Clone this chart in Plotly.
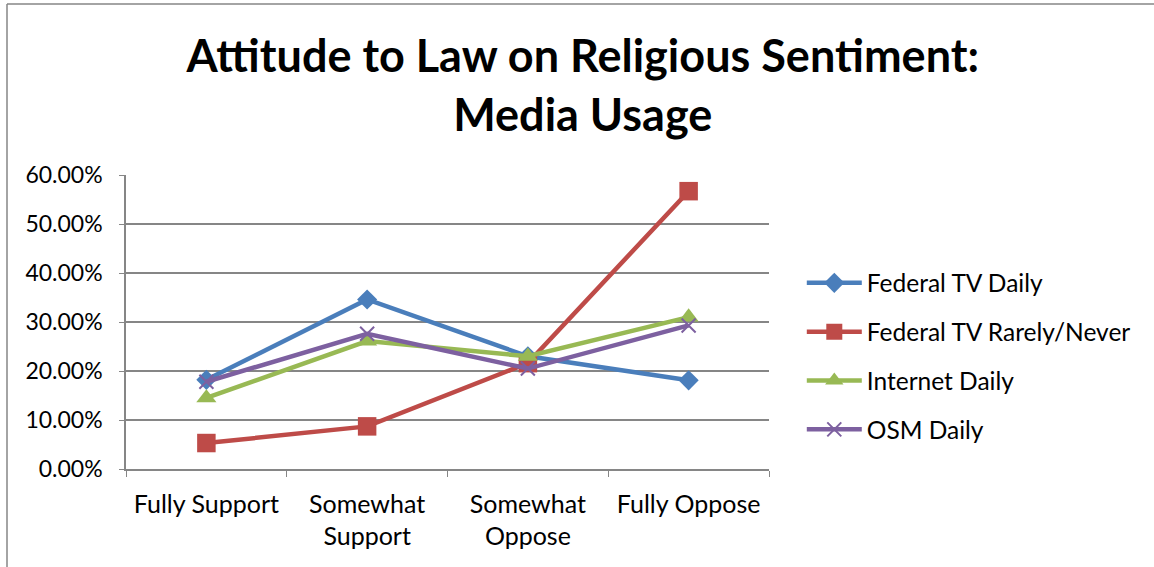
import plotly.graph_objects as go

categories = ["Fully Support", "Somewhat<br>Support", "Somewhat<br>Oppose", "Fully Oppose"]

federal_tv_daily = [0.182, 0.346, 0.230, 0.181]
federal_tv_rarely = [0.053, 0.087, 0.216, 0.567]
internet_daily = [0.145, 0.261, 0.230, 0.310]
osm_daily = [0.178, 0.276, 0.205, 0.293]

y_ticks = [0.0, 0.1, 0.2, 0.3, 0.4, 0.5, 0.6]

FONT = "Lato, sans-serif"
GRID = "#868686"

series = [
    ("Federal TV Daily", federal_tv_daily, "#4A7EBB", dict(symbol="diamond", size=15.5)),
    ("Federal TV Rarely/Never", federal_tv_rarely, "#BE4B48", dict(symbol="square", size=18.5)),
    ("Internet Daily", internet_daily, "#98B954", dict(symbol="triangle-up", size=17.5)),
    ("OSM Daily", osm_daily, "#7D60A0", dict(symbol="x-thin", size=14)),
]

fig = go.Figure()
for name, values, color, mk in series:
    marker = dict(color=color, **mk)
    if mk["symbol"] == "x-thin":
        marker["line"] = dict(color=color, width=2)
    fig.add_trace(go.Scatter(
        x=categories, y=values, name=name, mode="lines+markers",
        line=dict(color=color, width=4.5), marker=marker, legendgroup=name,
    ))

fig.update_layout(
    width=1154, height=567,
    margin=dict(l=126, r=385, t=175, b=98),
    paper_bgcolor="white", plot_bgcolor="white",
    font=dict(family=FONT, color="black", size=24),
    title=dict(
        text="<b>Attitude to Law on Religious Sentiment:<br>Media Usage</b>",
        font=dict(size=45, family=FONT, color="black"),
        x=0.505, xanchor="center", xref="container",
        y=0.873, yanchor="top", yref="container",
    ),
    showlegend=True,
    legend=dict(
        x=1.051, xanchor="left", y=0.383, yanchor="middle",
        font=dict(size=24.5, family=FONT), tracegroupgap=14, itemwidth=55,
        bgcolor="rgba(0,0,0,0)",
    ),
    shapes=[
        dict(type="line", xref="paper", yref="paper",
             x0=(7 - 126) / 643, x1=(7 - 126) / 643, y0=-0.4, y1=1 + (175 - 4) / 294,
             line=dict(color="#868686", width=1.5)),
        dict(type="line", xref="paper", yref="paper",
             x0=(7 - 126) / 643, x1=1.7, y0=1 + (175 - 4) / 294, y1=1 + (175 - 4) / 294,
             line=dict(color="#868686", width=1.5)),
    ],
)

fig.update_xaxes(
    type="category", tickson="boundaries", ticks="outside", ticklen=6,
    tickcolor=GRID, showline=True, linecolor=GRID, linewidth=1.5,
    showgrid=False, tickfont=dict(size=25), range=[-0.5, 3.5],
    tickangle=0, automargin=False, ticklabelstandoff=12,
)
fig.update_yaxes(
    range=[0, 0.6], tickvals=y_ticks, tickformat=".2%", ticks="outside", ticklen=5,
    tickcolor=GRID, showline=True, linecolor=GRID, linewidth=1.5,
    showgrid=True, gridcolor=GRID, gridwidth=1.5, zeroline=False,
    tickfont=dict(size=23), ticklabelstandoff=12, automargin=False,
)

fig.write_html("out.html")
